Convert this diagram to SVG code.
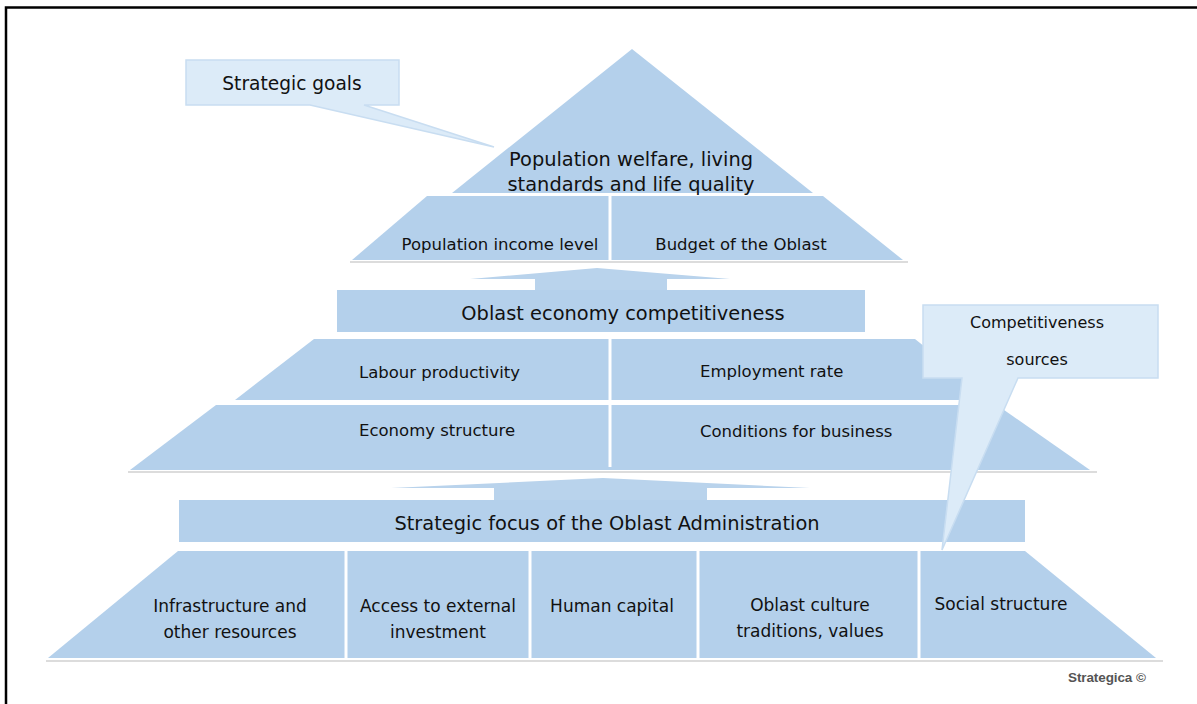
<svg xmlns="http://www.w3.org/2000/svg" width="1197" height="704" viewBox="0 0 1197 704">
  <defs>
    <style>
      .band { fill: #B4D0EB; }
      .arrow { fill: #B9D3EC; }
      .div { stroke: #FFFFFF; stroke-width: 3; }
      .base { stroke: #DCDCDC; stroke-width: 2; }
      .callout { fill: #DCEBF8; stroke: #C8DDF1; stroke-width: 1.5; }
      text { font-family: "DejaVu Sans", "Liberation Sans", sans-serif; fill: #111111; }
      .h { font-size: 19.4px; text-anchor: middle; }
      .m { font-size: 16.5px; }
      .b { font-size: 17px; text-anchor: middle; }
      .c { text-anchor: middle; }
    </style>
  </defs>
  <rect x="0" y="0" width="1197" height="704" fill="#FFFFFF"/>
  <!-- frame -->
  <path d="M6,704 L6,7.5 L1197,7.5" fill="none" stroke="#000000" stroke-width="2.5"/>

  <g id="connectors">
    <polygon id="arrow-upper" class="arrow" points="470,279 597,268 730,279 667,279 667,291 535,291 535,279"/>
    <polygon id="arrow-lower" class="arrow" points="391,488 603,478 810,488 707,488 707,501 494,501 494,488"/>
  </g>

  <g id="goal">
    <polygon class="band" points="632,49 813,193 452,193"/>
    <text class="h" x="631" y="166">Population welfare, living</text>
    <text class="h" x="631" y="191">standards and life quality</text>
  </g>

  <g id="level-2">
    <polygon class="band" points="427,196 823,196 903,260 352,260"/>
    <line class="base" x1="350" y1="262" x2="908" y2="262"/>
    <line class="div" x1="610" y1="196" x2="610" y2="260"/>
    <text class="m c" x="500" y="250">Population income level</text>
    <text class="m c" x="741" y="250">Budget of the Oblast</text>
  </g>

  <g id="competitiveness-bar">
    <rect class="band" x="337" y="290" width="528" height="42"/>
    <text class="h" x="623" y="320">Oblast economy competitiveness</text>
  </g>

  <g id="level-3">
    <polygon class="band" points="314,339 915,339 991,400 235,400"/>
    <text class="m" x="359" y="378">Labour productivity</text>
    <text class="m" x="700" y="377">Employment rate</text>
  </g>

  <g id="level-4">
    <polygon class="band" points="216,405 997,405 1090,470 130,470"/>
    <line class="base" x1="128" y1="472" x2="1097" y2="472"/>
    <line class="div" x1="610" y1="339" x2="610" y2="467"/>
    <text class="m" x="359" y="436">Economy structure</text>
    <text class="m" x="700" y="437">Conditions for business</text>
  </g>

  <g id="focus-bar">
    <rect class="band" x="179" y="500" width="846" height="42"/>
    <text class="h" x="607" y="530">Strategic focus of the Oblast Administration</text>
  </g>

  <g id="sources">
    <polygon class="band" points="178,551 1025,551 1156,658 48,658"/>
    <line class="base" x1="46" y1="661" x2="1163" y2="661"/>
    <line class="div" x1="346" y1="551" x2="346" y2="658"/>
    <line class="div" x1="530" y1="551" x2="530" y2="658"/>
    <line class="div" x1="698" y1="551" x2="698" y2="658"/>
    <line class="div" x1="919" y1="551" x2="919" y2="658"/>
    <text class="b" x="230" y="612">Infrastructure and</text>
    <text class="b" x="230" y="638">other resources</text>
    <text class="b" x="438" y="612">Access to external</text>
    <text class="b" x="438" y="638">investment</text>
    <text class="b" x="612" y="612">Human capital</text>
    <text class="b" x="810" y="611">Oblast culture</text>
    <text class="b" x="810" y="637">traditions, values</text>
    <text class="b" x="1001" y="610">Social structure</text>
  </g>

  <g id="callout-goals">
    <path class="callout" d="M186,60 L399,60 L399,105 L364,105 L494,147 L310,105 L186,105 Z"/>
    <text class="c" x="292" y="90" style="font-size:18.6px">Strategic goals</text>
  </g>

  <g id="callout-sources">
    <path class="callout" d="M923,305 L1158,305 L1158,378 L1018,378 L942,550 L962,378 L923,378 Z"/>
    <text class="c" x="1037" y="328" style="font-size:16px">Competitiveness</text>
    <text class="c" x="1037" y="365" style="font-size:16px">sources</text>
  </g>

  <text x="1068" y="682" style="font-family:'Liberation Sans', Arial, sans-serif; font-size:13.5px; font-weight:bold; fill:#555555; letter-spacing:-0.1px">Strategica ©</text>
</svg>
